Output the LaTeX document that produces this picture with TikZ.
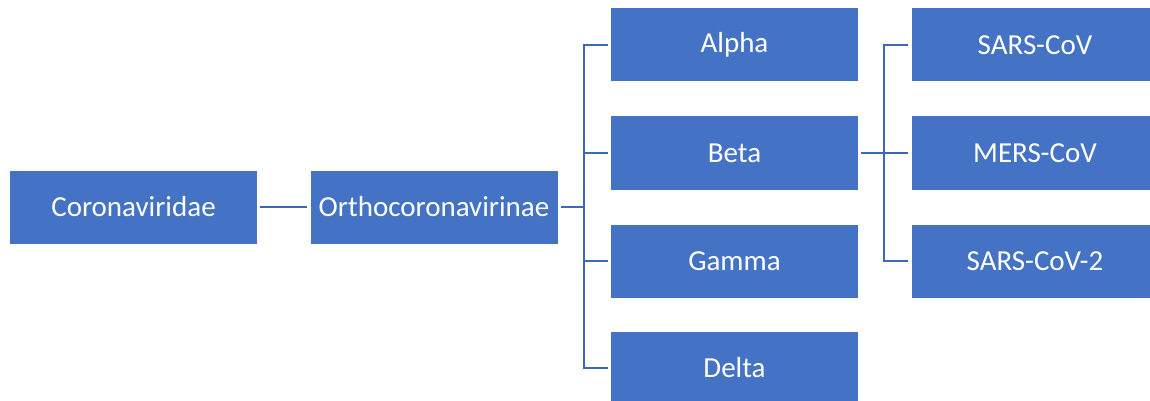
\documentclass[tikz,border=0pt]{standalone}
\usepackage{fontspec}
\setmainfont{Carlito}
\definecolor{boxblue}{HTML}{4472C4}
\definecolor{lineblue}{HTML}{3E68B4}
\begin{document}
\begin{tikzpicture}[x=1pt,y=-1pt,
  box/.style={fill=boxblue,draw=none,minimum width=247pt,minimum height=73pt,
    inner sep=0pt,text=white,font=\fontsize{29}{34}\selectfont},
  conn/.style={draw=lineblue,line width=2.5pt}]
\useasboundingbox (0,0) rectangle (1150,401);
\node[box] (cor) at (133.5,207) {Coronaviridae};
\node[box] (ort) at (434,207) {Orthocoronavirinae};
\node[box] (alp) at (734.5,45) {Alpha};
\node[box] (bet) at (734.5,153) {Beta};
\node[box] (gam) at (734.5,261) {Gamma};
\node[box] (del) at (734.5,368) {Delta};
\node[box] (sar) at (1035,45) {SARS-CoV};
\node[box] (mer) at (1035,153) {MERS-CoV};
\node[box] (sa2) at (1035,261) {SARS-CoV-2};
\draw[conn] ([xshift=3pt]cor.east) -- ([xshift=-3pt]ort.west);
\coordinate (j1) at (584,207);
\draw[conn] ([xshift=3pt]ort.east) -- (j1);
\draw[conn,line join=miter] ([xshift=-3pt]alp.west) -| (j1) |- ([xshift=-3pt]del.west);
\draw[conn] (j1 |- bet.west) -- ([xshift=-3pt]bet.west);
\draw[conn] (j1 |- gam.west) -- ([xshift=-3pt]gam.west);
\coordinate (j2) at (884,153);
\draw[conn] ([xshift=3pt]bet.east) -- ([xshift=-3pt]mer.west);
\draw[conn,line join=miter] ([xshift=-3pt]sar.west) -| (j2) |- ([xshift=-3pt]sa2.west);
\end{tikzpicture}
\end{document}
